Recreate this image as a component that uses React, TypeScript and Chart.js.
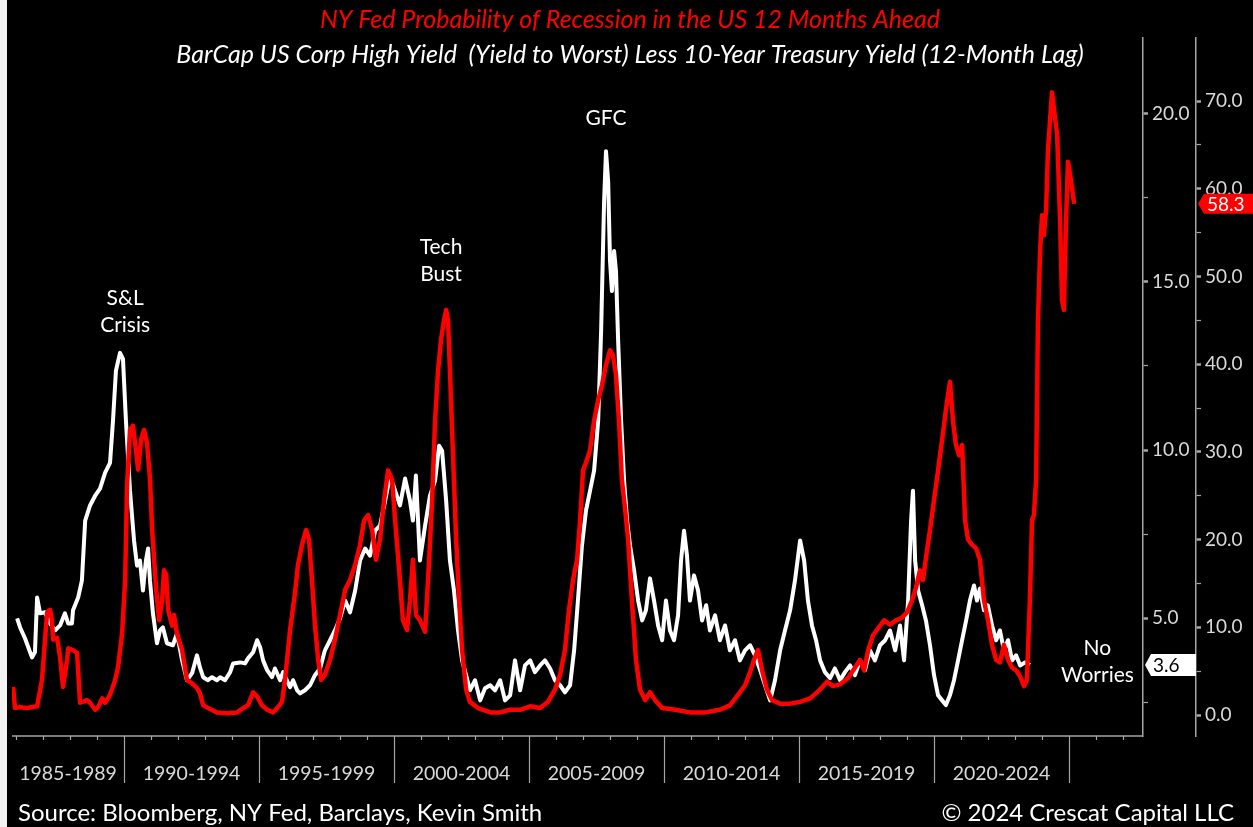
import { useEffect, useRef } from 'react';
import { Chart, registerables } from 'chart.js';

Chart.register(...registerables);

const TITLE_RED = 'NY Fed Probability of Recession in the US 12 Months Ahead';
const TITLE_WHITE = 'BarCap US Corp High Yield  (Yield to Worst) Less 10-Year Treasury Yield (12-Month Lag)';
const SOURCE_TEXT = 'Source: Bloomberg, NY Fed, Barclays, Kevin Smith';
const COPYRIGHT_TEXT = '© 2024 Crescat Capital LLC';

const PERIOD_STARTS = [1985, 1990, 1995, 2000, 2005, 2010, 2015, 2020];
const PERIOD_LABELS = ['1985-1989', '1990-1994', '1995-1999', '2000-2004', '2005-2009', '2010-2014', '2015-2019', '2020-2024'];
const YEAR_TICKS_FROM = 1986;
const YEAR_TICKS_TO = 2027;

const HY_TICKS = [2.5, 5, 7.5, 10, 12.5, 15, 17.5, 20];
const PROB_TICKS = [0, 5, 10, 15, 20, 25, 30, 35, 40, 45, 50, 55, 60, 65, 70];

// White: BarCap US Corp High Yield (YTW) less 10Y Treasury, 12-month lag (%)
const hyYears = [
  1986.04, 1986.15, 1986.33, 1986.59, 1986.70, 1986.78, 1986.89, 1987.07, 1987.26, 1987.44,
  1987.63, 1987.81, 1987.93, 1988.07, 1988.11, 1988.30, 1988.44, 1988.56, 1988.74, 1988.93,
  1989.11, 1989.30, 1989.48, 1989.59, 1989.70, 1989.85, 1989.96, 1990.07, 1990.22, 1990.37,
  1990.48, 1990.59, 1990.70, 1990.81, 1990.89, 1990.96, 1991.07, 1991.22, 1991.33, 1991.44,
  1991.59, 1991.81, 1991.96, 1992.15, 1992.33, 1992.52, 1992.70, 1992.81, 1992.93, 1993.11,
  1993.26, 1993.44, 1993.56, 1993.74, 1993.93, 1994.04, 1994.30, 1994.48, 1994.59, 1994.78,
  1994.93, 1995.04, 1995.15, 1995.30, 1995.48, 1995.59, 1995.78, 1995.89, 1996.15, 1996.26,
  1996.41, 1996.52, 1996.70, 1996.89, 1997.07, 1997.26, 1997.44, 1997.63, 1997.81, 1998.00,
  1998.19, 1998.37, 1998.56, 1998.74, 1998.93, 1999.11, 1999.30, 1999.48, 1999.67, 1999.85,
  2000.04, 2000.22, 2000.41, 2000.59, 2000.70, 2000.81, 2000.96, 2001.15, 2001.33, 2001.52,
  2001.67, 2001.78, 2001.93, 2002.07, 2002.22, 2002.37, 2002.52, 2002.67, 2002.81, 2003.00,
  2003.19, 2003.37, 2003.56, 2003.74, 2003.93, 2004.11, 2004.30, 2004.48, 2004.67, 2004.85,
  2005.04, 2005.22, 2005.41, 2005.59, 2005.78, 2005.96, 2006.15, 2006.33, 2006.52, 2006.67,
  2006.81, 2006.96, 2007.11, 2007.26, 2007.41, 2007.56, 2007.67, 2007.78, 2007.85, 2007.93,
  2008.00, 2008.07, 2008.15, 2008.22, 2008.30, 2008.41, 2008.52, 2008.63, 2008.74, 2008.89,
  2009.04, 2009.19, 2009.33, 2009.48, 2009.63, 2009.78, 2009.93, 2010.07, 2010.22, 2010.37,
  2010.52, 2010.63, 2010.74, 2010.85, 2010.96, 2011.11, 2011.26, 2011.41, 2011.56, 2011.70,
  2011.89, 2012.07, 2012.26, 2012.44, 2012.63, 2012.81, 2013.00, 2013.19, 2013.37, 2013.56,
  2013.74, 2013.93, 2014.11, 2014.30, 2014.48, 2014.67, 2014.85, 2015.04, 2015.19, 2015.33,
  2015.48, 2015.63, 2015.78, 2015.96, 2016.15, 2016.33, 2016.52, 2016.70, 2016.89, 2017.07,
  2017.26, 2017.44, 2017.63, 2017.81, 2018.00, 2018.19, 2018.37, 2018.56, 2018.74, 2018.89,
  2019.04, 2019.15, 2019.22, 2019.30, 2019.41, 2019.56, 2019.70, 2019.85, 2020.00, 2020.15,
  2020.30, 2020.44, 2020.59, 2020.74, 2020.89, 2021.04, 2021.19, 2021.33, 2021.48, 2021.59,
  2021.70, 2021.85, 2021.99, 2022.15, 2022.30, 2022.44, 2022.59, 2022.74, 2022.89, 2023.04,
  2023.19, 2023.37, 2023.55,
];
const hyValues = [
  4.99, 4.72, 4.40, 3.83, 3.98, 5.61, 5.14, 5.17, 4.84, 4.63,
  4.78, 5.14, 4.84, 4.84, 5.23, 5.61, 6.12, 7.90, 8.35, 8.64,
  8.85, 9.33, 9.62, 10.87, 12.36, 12.89, 12.71, 10.87, 8.79, 7.31,
  6.56, 6.71, 5.82, 6.71, 7.07, 6.12, 5.14, 4.25, 4.63, 4.72,
  4.25, 4.19, 4.54, 3.74, 3.15, 3.36, 3.89, 3.53, 3.24, 3.15,
  3.24, 3.15, 3.24, 3.15, 3.39, 3.65, 3.68, 3.65, 3.80, 3.98,
  4.34, 4.13, 3.74, 3.45, 3.24, 3.50, 3.15, 3.39, 2.94, 3.15,
  2.85, 2.76, 2.85, 3.00, 3.30, 3.50, 4.04, 4.34, 4.63, 4.99,
  5.52, 5.17, 5.82, 6.71, 7.07, 6.86, 7.60, 7.75, 8.49, 9.24,
  8.79, 8.35, 9.15, 8.49, 7.90, 9.24, 6.71, 7.75, 8.64, 9.09,
  10.13, 9.98, 8.49, 6.71, 5.82, 4.63, 3.74, 3.30, 2.85, 3.15,
  2.55, 2.91, 3.00, 2.85, 3.15, 2.55, 2.70, 3.74, 2.85, 3.59,
  3.74, 3.39, 3.59, 3.74, 3.50, 3.15, 3.00, 2.79, 3.00, 4.04,
  5.52, 7.16, 8.20, 8.79, 9.39, 10.87, 13.54, 17.40, 18.89, 18.00,
  15.62, 14.73, 15.92, 15.33, 13.25, 10.87, 9.09, 7.90, 7.16, 6.42,
  5.52, 4.93, 5.23, 6.18, 5.52, 4.78, 4.34, 5.52, 4.63, 4.34,
  5.08, 6.71, 7.60, 6.86, 5.52, 6.27, 5.82, 4.93, 5.38, 4.63,
  5.08, 4.34, 4.78, 4.04, 4.34, 3.74, 4.04, 4.19, 3.89, 3.45,
  3.00, 2.55, 3.15, 4.04, 4.63, 5.23, 6.12, 7.31, 6.71, 5.52,
  4.78, 4.34, 3.74, 3.39, 3.21, 3.50, 3.15, 3.39, 3.59, 3.30,
  3.74, 3.45, 4.04, 3.74, 4.19, 4.34, 4.63, 4.04, 4.78, 3.74,
  5.52, 7.90, 8.79, 6.71, 5.82, 5.38, 4.93, 4.19, 3.30, 2.70,
  2.55, 2.41, 2.70, 3.15, 3.74, 4.34, 4.93, 5.52, 5.97, 5.52,
  5.88, 5.23, 5.38, 4.78, 4.34, 4.63, 4.04, 4.34, 3.74, 3.89,
  3.59, 3.68, 3.6,
];

// Red: NY Fed probability of US recession 12 months ahead (%)
const probYears = [
  1985.89, 1985.96, 1986.15, 1986.41, 1986.78, 1986.96, 1987.15, 1987.26, 1987.33, 1987.37,
  1987.52, 1987.63, 1987.74, 1987.89, 1987.93, 1988.11, 1988.26, 1988.37, 1988.63, 1988.74,
  1988.93, 1989.04, 1989.19, 1989.30, 1989.48, 1989.67, 1989.78, 1989.93, 1990.04, 1990.11,
  1990.22, 1990.33, 1990.44, 1990.52, 1990.63, 1990.74, 1990.85, 1990.96, 1991.04, 1991.19,
  1991.30, 1991.41, 1991.48, 1991.56, 1991.63, 1991.78, 1991.85, 1991.96, 1992.15, 1992.33,
  1992.52, 1992.70, 1992.81, 1992.93, 1993.11, 1993.44, 1993.81, 1994.19, 1994.41, 1994.59,
  1994.78, 1994.93, 1995.11, 1995.30, 1995.52, 1995.70, 1995.85, 1995.96, 1996.15, 1996.33,
  1996.44, 1996.59, 1996.74, 1996.85, 1996.96, 1997.07, 1997.19, 1997.30, 1997.44, 1997.63,
  1997.81, 1998.00, 1998.19, 1998.37, 1998.56, 1998.74, 1998.89, 1999.04, 1999.19, 1999.33,
  1999.48, 1999.63, 1999.78, 1999.93, 2000.04, 2000.19, 2000.33, 2000.48, 2000.59, 2000.70,
  2000.81, 2000.96, 2001.15, 2001.30, 2001.41, 2001.52, 2001.63, 2001.74, 2001.85, 2001.93,
  2002.00, 2002.07, 2002.19, 2002.30, 2002.41, 2002.52, 2002.67, 2002.81, 2003.11, 2003.56,
  2003.93, 2004.30, 2004.67, 2005.04, 2005.41, 2005.70, 2005.96, 2006.15, 2006.33, 2006.48,
  2006.63, 2006.78, 2006.89, 2007.00, 2007.11, 2007.26, 2007.41, 2007.56, 2007.70, 2007.85,
  2008.00, 2008.11, 2008.22, 2008.33, 2008.44, 2008.56, 2008.67, 2008.81, 2008.96, 2009.11,
  2009.30, 2009.48, 2009.67, 2009.93, 2010.41, 2010.96, 2011.52, 2012.07, 2012.44, 2012.74,
  2013.00, 2013.19, 2013.33, 2013.48, 2013.63, 2013.81, 2014.00, 2014.30, 2014.67, 2015.04,
  2015.41, 2015.78, 2016.04, 2016.26, 2016.52, 2016.81, 2017.07, 2017.26, 2017.41, 2017.56,
  2017.74, 2017.93, 2018.15, 2018.37, 2018.59, 2018.81, 2019.00, 2019.19, 2019.33, 2019.48,
  2019.59, 2019.70, 2019.85, 2020.00, 2020.15, 2020.30, 2020.44, 2020.59, 2020.70, 2020.81,
  2020.93, 2021.04, 2021.15, 2021.26, 2021.41, 2021.56, 2021.70, 2021.85, 2022.00, 2022.15,
  2022.30, 2022.44, 2022.59, 2022.74, 2022.89, 2023.04, 2023.19, 2023.33, 2023.44, 2023.55,
  2023.63, 2023.70, 2023.78, 2023.85, 2023.93, 2024.00, 2024.07, 2024.15, 2024.22, 2024.37,
  2024.56, 2024.67, 2024.74, 2024.81, 2024.89, 2024.96, 2025.07, 2025.19,
];
const probValues = [
  3.2, 0.8, 0.9, 0.8, 1.0, 4.0, 11.7, 12.0, 10.8, 8.6,
  8.8, 6.6, 3.2, 6.3, 7.6, 7.4, 7.1, 1.4, 1.7, 1.4,
  0.6, 0.9, 1.9, 1.4, 2.3, 4.0, 5.5, 9.4, 15.4, 26.0,
  32.5, 33.0, 30.2, 28.0, 31.4, 32.5, 31.0, 27.0, 21.1, 14.3,
  10.8, 13.1, 16.5, 16.0, 12.0, 10.2, 11.4, 9.3, 7.4, 4.0,
  3.6, 3.1, 2.5, 1.1, 0.8, 0.3, 0.2, 0.3, 0.8, 1.1,
  2.6, 2.1, 1.1, 0.6, 0.3, 0.9, 1.5, 4.0, 9.7, 13.9,
  17.1, 19.4, 21.1, 20.0, 15.4, 10.3, 6.3, 4.0, 4.6, 6.3,
  8.6, 11.4, 14.3, 15.4, 17.1, 19.4, 22.2, 22.8, 21.1, 17.7,
  20.0, 24.5, 27.9, 26.8, 22.2, 16.5, 10.8, 9.7, 13.1, 17.7,
  11.4, 10.8, 9.5, 17.7, 24.5, 33.6, 39.3, 42.8, 45.0, 46.2,
  45.0, 39.3, 29.1, 20.0, 13.1, 7.4, 2.9, 1.5, 0.8, 0.3,
  0.3, 0.6, 0.6, 1.0, 0.8, 1.5, 2.9, 4.6, 7.4, 12.0,
  15.4, 17.7, 22.2, 27.9, 28.8, 30.2, 33.6, 35.9, 37.6, 39.9,
  41.6, 41.0, 38.8, 33.6, 26.8, 23.4, 20.0, 13.1, 6.3, 2.9,
  1.7, 2.6, 1.7, 0.8, 0.6, 0.3, 0.3, 0.6, 1.1, 2.3,
  3.4, 4.9, 6.3, 7.4, 5.1, 2.9, 1.7, 1.3, 1.3, 1.5,
  1.9, 2.9, 3.8, 3.3, 3.5, 4.2, 5.4, 6.3, 5.1, 7.4,
  9.1, 9.9, 10.8, 10.3, 10.8, 11.1, 11.7, 13.1, 14.5, 16.5,
  15.4, 17.9, 21.1, 24.5, 27.9, 31.4, 34.8, 38.0, 33.6, 30.8,
  29.6, 30.8, 22.2, 20.0, 19.4, 19.0, 17.7, 13.1, 10.8, 8.0,
  6.3, 6.0, 8.0, 6.3, 5.4, 5.1, 4.4, 3.3, 4.0, 13.1,
  22.2, 22.8, 26.8, 45.0, 53.0, 57.0, 54.7, 57.6, 64.4, 71.0,
  66.1, 56.4, 47.3, 46.2, 56.4, 63.1, 61.0, 58.3,
];

// Event annotations, anchored in (year, HY-spread scale) coordinates
const EVENT_LINES = [['S&L', 'Crisis'], ['Tech', 'Bust'], ['GFC'], ['No', 'Worries']];
const EVENT_YEARS = [1990.04, 2001.74, 2007.85, 2026.05];
const EVENT_LEVELS = [14.52, 16.04, 19.87, 4.1];

const FONT = 'Lato, "Open Sans", sans-serif';
const AXIS_COLOR = '#a6a6a6';
const LABEL_COLOR = '#d9d9d9';

const decorPlugin = {
  id: 'decor',
  afterDraw(chart: any) {
    const ctx = chart.ctx as CanvasRenderingContext2D;
    const { chartArea } = chart;
    const xs = chart.scales.x;
    const yHY = chart.scales.yHY;
    const yP = chart.scales.yProb;
    const W = chart.width;
    ctx.save();

    // Titles
    ctx.textAlign = 'center';
    ctx.textBaseline = 'middle';
    ctx.font = `italic 25px ${FONT}`;
    ctx.fillStyle = '#ff0000';
    ctx.fillText(TITLE_RED, 623, 20);
    ctx.fillStyle = '#ffffff';
    ctx.fillText(TITLE_WHITE, 623, 55);

    // X axis: baseline, year ticks, period separators, labels
    const bottom = chartArea.bottom;
    ctx.strokeStyle = AXIS_COLOR;
    ctx.lineWidth = 1.5;
    ctx.beginPath();
    ctx.moveTo(chartArea.left, bottom);
    ctx.lineTo(chartArea.right, bottom);
    ctx.stroke();
    for (let yr = YEAR_TICKS_FROM; yr <= YEAR_TICKS_TO; yr++) {
      const px = Math.round(xs.getPixelForValue(yr)) + 0.5;
      ctx.beginPath();
      ctx.moveTo(px, bottom);
      ctx.lineTo(px, bottom + (yr % 5 === 0 ? 47 : 4));
      ctx.lineWidth = 1.2;
      ctx.stroke();
    }
    ctx.font = `19.5px ${FONT}`;
    ctx.fillStyle = LABEL_COLOR;
    ctx.textAlign = 'center';
    ctx.textBaseline = 'middle';
    PERIOD_STARTS.forEach((p, i) => {
      const a = Math.max(xs.getPixelForValue(p), chartArea.left);
      const b = xs.getPixelForValue(p + 5);
      ctx.fillText(PERIOD_LABELS[i], (a + b) / 2, bottom + 38);
    });

    // Footer
    ctx.font = `24px ${FONT}`;
    ctx.fillStyle = '#ffffff';
    ctx.textBaseline = 'alphabetic';
    ctx.textAlign = 'left';
    ctx.fillText(SOURCE_TEXT, 11, 821);
    ctx.textAlign = 'right';
    ctx.fillText(COPYRIGHT_TEXT, 1227, 821);

    // Event annotations
    ctx.font = `21px ${FONT}`;
    ctx.fillStyle = '#ffffff';
    ctx.textAlign = 'center';
    ctx.textBaseline = 'middle';
    EVENT_LINES.forEach((lines, i) => {
      const px = xs.getPixelForValue(EVENT_YEARS[i]);
      const py = yHY.getPixelForValue(EVENT_LEVELS[i]);
      lines.forEach((t, j) => ctx.fillText(t, px, py + j * 27));
    });

    // Last-value flags
    const lastP = probValues[probValues.length - 1];
    const fy = yP.getPixelForValue(lastP);
    const tipP = yP.left + 2;
    ctx.fillStyle = '#ff0000';
    ctx.beginPath();
    ctx.moveTo(tipP, fy);
    ctx.lineTo(tipP + 6, fy - 10);
    ctx.lineTo(W, fy - 10);
    ctx.lineTo(W, fy + 10);
    ctx.lineTo(tipP + 6, fy + 10);
    ctx.closePath();
    ctx.fill();
    ctx.font = `19px ${FONT}`;
    ctx.fillStyle = '#ffffff';
    ctx.textAlign = 'left';
    ctx.fillText(lastP.toFixed(1), tipP + 9, fy + 1);

    const lastH = hyValues[hyValues.length - 1];
    const hy = yHY.getPixelForValue(lastH);
    const tipH = yHY.left + 2;
    ctx.fillStyle = '#ffffff';
    ctx.beginPath();
    ctx.moveTo(tipH, hy);
    ctx.lineTo(tipH + 6, hy - 11);
    ctx.lineTo(yP.left, hy - 11);
    ctx.lineTo(yP.left, hy + 11);
    ctx.lineTo(tipH + 6, hy + 11);
    ctx.closePath();
    ctx.fill();
    ctx.fillStyle = '#000000';
    ctx.fillText(lastH.toFixed(1), tipH + 8, hy + 1);

    ctx.restore();
  },
};

function axisOptions(ticksList: number[], major: number, min: number, max: number, width: number, weight: number) {
  return {
    type: 'linear',
    position: 'right',
    weight,
    min,
    max,
    afterBuildTicks: (s: any) => {
      s.ticks = ticksList.map((v) => ({ value: v }));
    },
    afterFit: (s: any) => {
      s.width = width;
    },
    border: { display: true, color: AXIS_COLOR, width: 1.5 },
    grid: {
      drawOnChartArea: false,
      drawTicks: true,
      tickLength: 5,
      tickColor: AXIS_COLOR,
      tickWidth: (c: any) => (c.tick && c.tick.value % major === 0 ? 2.5 : 1.2),
    },
    ticks: {
      color: LABEL_COLOR,
      font: { family: FONT, size: 19 },
      padding: 4,
      autoSkip: false,
      callback: (v: number) => (v % major === 0 ? v.toFixed(1) : ''),
    },
  };
}

export default function App() {
  const ref = useRef<HTMLCanvasElement>(null);
  useEffect(() => {
    if (!ref.current) return;
    const chart = new Chart(ref.current, {
      type: 'line',
      data: {
        datasets: [
          {
            label: 'NY Fed Probability of Recession',
            data: probYears.map((x, i) => ({ x, y: probValues[i] })),
            yAxisID: 'yProb',
            borderColor: '#ff0000',
            borderWidth: 4.5,
            pointRadius: 0,
            tension: 0,
            borderJoinStyle: 'round',
            order: 0,
          },
          {
            label: 'HY spread',
            data: hyYears.map((x, i) => ({ x, y: hyValues[i] })),
            yAxisID: 'yHY',
            borderColor: '#ffffff',
            borderWidth: 4,
            pointRadius: 0,
            tension: 0,
            borderJoinStyle: 'round',
            order: 1,
          },
        ],
      },
      options: {
        animation: false,
        responsive: false,
        maintainAspectRatio: false,
        devicePixelRatio: 1,
        layout: { padding: { left: 5, top: 38, bottom: 91, right: 0 } },
        plugins: { legend: { display: false }, tooltip: { enabled: false } },
        scales: {
          x: { type: 'linear', min: 1985.85, max: 2027.74, display: false },
          yHY: axisOptions(HY_TICKS, 5, 1.49, 22.26, 53, 0),
          yProb: axisOptions(PROB_TICKS, 10, -2.39, 77.2, 57, 1),
        },
      } as any,
      plugins: [decorPlugin],
    } as any);
    return () => chart.destroy();
  }, []);
  return (
    <div style={{ position: 'fixed', left: 0, top: 0, width: 1253, height: 827, background: '#f3f3f3' }}>
      <canvas
        ref={ref}
        width={1246}
        height={827}
        style={{ position: 'absolute', left: 7, top: 0, width: 1246, height: 827, background: '#000' }}
      />
    </div>
  );
}
